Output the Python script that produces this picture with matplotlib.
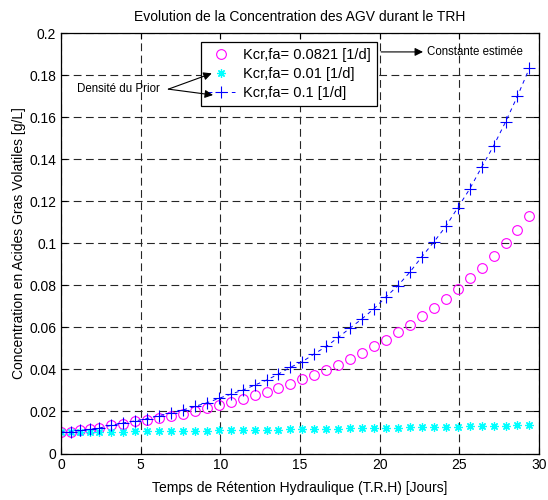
import numpy as np
import matplotlib
matplotlib.use('Agg')
import matplotlib.pyplot as plt

plt.rcParams['font.family'] = ['Liberation Sans', 'DejaVu Sans']

# Temps de retention (jours)
trh = [0, 0.6, 1.2, 1.8, 2.4, 3.15, 3.9, 4.65, 5.4, 6.15, 6.9, 7.65, 8.4,
       9.15, 9.9, 10.65, 11.4, 12.15, 12.9, 13.65, 14.4, 15.15, 15.9, 16.65,
       17.4, 18.15, 18.9, 19.65, 20.4, 21.15, 21.9, 22.65, 23.4, 24.15, 24.9,
       25.65, 26.4, 27.15, 27.9, 28.65, 29.4]

# Kcr,fa = 0.0821 (constante estimee)
agv_est = [0.0102, 0.0102, 0.0110, 0.0115, 0.0121, 0.0134, 0.0142, 0.0153,
           0.0161, 0.0168, 0.0180, 0.0190, 0.0203, 0.0215, 0.0230, 0.0244,
           0.0258, 0.0276, 0.0291, 0.0311, 0.0329, 0.0352, 0.0373, 0.0397,
           0.0421, 0.0450, 0.0480, 0.0509, 0.0541, 0.0576, 0.0610, 0.0652,
           0.0692, 0.0735, 0.0782, 0.0833, 0.0882, 0.0939, 0.1000, 0.1064,
           0.1131]

# Kcr,fa = 0.01
agv_low = [0.0102, 0.0102, 0.0103, 0.0103, 0.0103, 0.0104, 0.0104, 0.0105,
           0.0105, 0.0106, 0.0107, 0.0108, 0.0108, 0.0109, 0.0110, 0.0110,
           0.0111, 0.0112, 0.0113, 0.0114, 0.0115, 0.0115, 0.0116, 0.0117,
           0.0118, 0.0119, 0.0120, 0.0121, 0.0122, 0.0123, 0.0124, 0.0125,
           0.0126, 0.0127, 0.0128, 0.0130, 0.0131, 0.0132, 0.0133, 0.0135,
           0.0136]

# Kcr,fa = 0.1
agv_high = [0.0102, 0.0102, 0.0110, 0.0115, 0.0121, 0.0134, 0.0145, 0.0155,
            0.0166, 0.0180, 0.0192, 0.0207, 0.0224, 0.0241, 0.0262, 0.0282,
            0.0301, 0.0325, 0.0349, 0.0378, 0.0410, 0.0437, 0.0474, 0.0509,
            0.0552, 0.0597, 0.0641, 0.0689, 0.0745, 0.0799, 0.0863, 0.0936,
            0.1006, 0.1080, 0.1169, 0.1258, 0.1362, 0.1463, 0.1577, 0.1700,
            0.1833]

labels = ['Kcr,fa= 0.0821 [1/d]', 'Kcr,fa= 0.01 [1/d]', 'Kcr,fa= 0.1 [1/d]']

fig = plt.figure(figsize=(5.48, 5.0), dpi=100)
ax = fig.add_axes([61/548, 1 - 453.5/500, 478/548, 420.5/500])

ax.plot(trh, agv_est, 'o', color='#ff00ff', markerfacecolor='none',
        markersize=7, markeredgewidth=0.8, label=labels[0])
ax.plot(trh, agv_low, linestyle='none', marker=(8, 2, 0), color='#00ffff',
        markersize=6, markeredgewidth=0.9, label=labels[1])
ax.plot(trh, agv_high, '--+', color='#0000ff', markersize=8,
        markeredgewidth=0.8, linewidth=0.7, dashes=(4, 4), label=labels[2])

ax.set_xlim(0, 30)
ax.set_ylim(0, 0.2)
ax.set_xticks(np.arange(0, 31, 5))
ax.set_yticks(np.arange(0, 0.201, 0.02))
ax.set_yticklabels(['0', '0.02', '0.04', '0.06', '0.08', '0.1', '0.12',
                    '0.14', '0.16', '0.18', '0.2'])
ax.tick_params(direction='in', top=True, right=True, labelsize=10,
               length=4, width=0.8)
ax.grid(True, color='0.15', linestyle=(0, (7, 4)), linewidth=0.8)
ax.set_axisbelow(True)
for s in ax.spines.values():
    s.set_linewidth(0.9)

ax.set_title('Evolution de la Concentration des AGV durant le TRH',
             fontsize=10, pad=9)
ax.set_xlabel('Temps de Rétention Hydraulique (T.R.H) [Jours]', fontsize=10,
              labelpad=6)
ax.set_ylabel('Concentration en Acides Gras Volatiles [g/L]', fontsize=10,
              labelpad=2)

leg = ax.legend(loc='upper left', bbox_to_anchor=(0.293, 0.979),
                borderaxespad=0, fontsize=10.5, handlelength=1.85,
                handletextpad=0.55, borderpad=0.45, labelspacing=0.32,
                fancybox=False, framealpha=1, edgecolor='black')
leg.get_frame().set_linewidth(0.9)
leg.set_zorder(4)

# annotations
arrow = dict(arrowstyle='-|>', color='black', lw=0.8, mutation_scale=12,
             shrinkA=0, shrinkB=0)
ax.text(1.0, 0.1733, 'Densité du Prior', fontsize=8.3, ha='left',
        va='center')
ax.annotate('', xy=(9.46, 0.1808), xytext=(6.74, 0.1733), arrowprops=arrow,
            zorder=6)
ax.annotate('', xy=(9.54, 0.1705), xytext=(6.74, 0.1733), arrowprops=arrow,
            zorder=6)
ax.annotate('', xy=(22.72, 0.1910), xytext=(20.09, 0.1910), arrowprops=arrow,
            zorder=6)
ax.text(22.95, 0.1910, 'Constante estimée', fontsize=8.3, ha='left',
        va='center')

fig.savefig('out.png', dpi=100)
